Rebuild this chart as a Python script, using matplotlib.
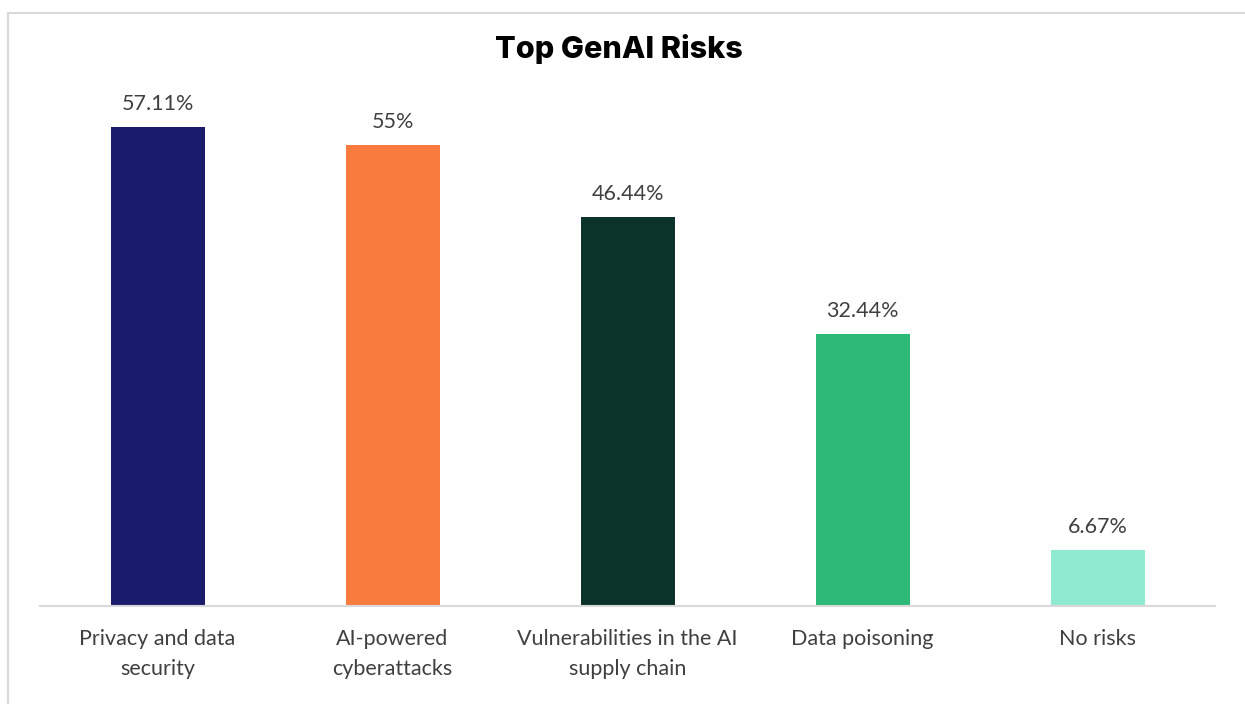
import matplotlib.pyplot as plt
from matplotlib.patches import Rectangle

categories = ['Privacy and data\nsecurity', 'AI-powered\ncyberattacks',
              'Vulnerabilities in the AI\nsupply chain', 'Data poisoning', 'No risks']
values = [57.11, 55, 46.44, 32.44, 6.67]
labels = ['57.11%', '55%', '46.44%', '32.44%', '6.67%']
colors = ['#1b1b6b', '#f97b3d', '#0c332a', '#2dba78', '#8eead0']

W, H = 1245, 704
fig = plt.figure(figsize=(W / 100, H / 100), dpi=100)

# light grey frame of the chart area (right and bottom run off the picture)
fig.patches.append(Rectangle((8 / W, -0.05), 1.1, (H - 13) / H + 0.05,
                             transform=fig.transFigure, fill=False,
                             edgecolor='#d9d9d9', linewidth=1.5))

ax = fig.add_axes([40 / W, (H - 606) / H, 1175 / W, (606 - 86) / H])
x = range(len(values))
ax.bar(x, values, width=0.4, color=colors, zorder=2)
ax.set_xlim(-0.5, len(values) - 0.5)
ax.set_ylim(0, 62)

for xi, v, lab in zip(x, values, labels):
    ax.text(xi, v + 1.5, lab, ha='center', va='bottom', fontsize=15.5,
            family='Lato', color='#404040')

ax.set_xticks(list(x))
ax.set_xticklabels(categories, fontsize=15.5, family='Lato', color='#404040',
                   linespacing=1.62)
ax.tick_params(axis='x', length=0, pad=16.5)
ax.set_yticks([])
for s in ['top', 'right', 'left']:
    ax.spines[s].set_visible(False)
ax.spines['bottom'].set_color('#d9d9d9')
ax.spines['bottom'].set_linewidth(1.5)

fig.text(619 / W, 1 - 49 / H, 'Top GenAI Risks', ha='center', va='center',
         fontsize=22, fontweight='heavy', family='Inter', color='black')

fig.savefig('out.png', dpi=100, facecolor='white')
